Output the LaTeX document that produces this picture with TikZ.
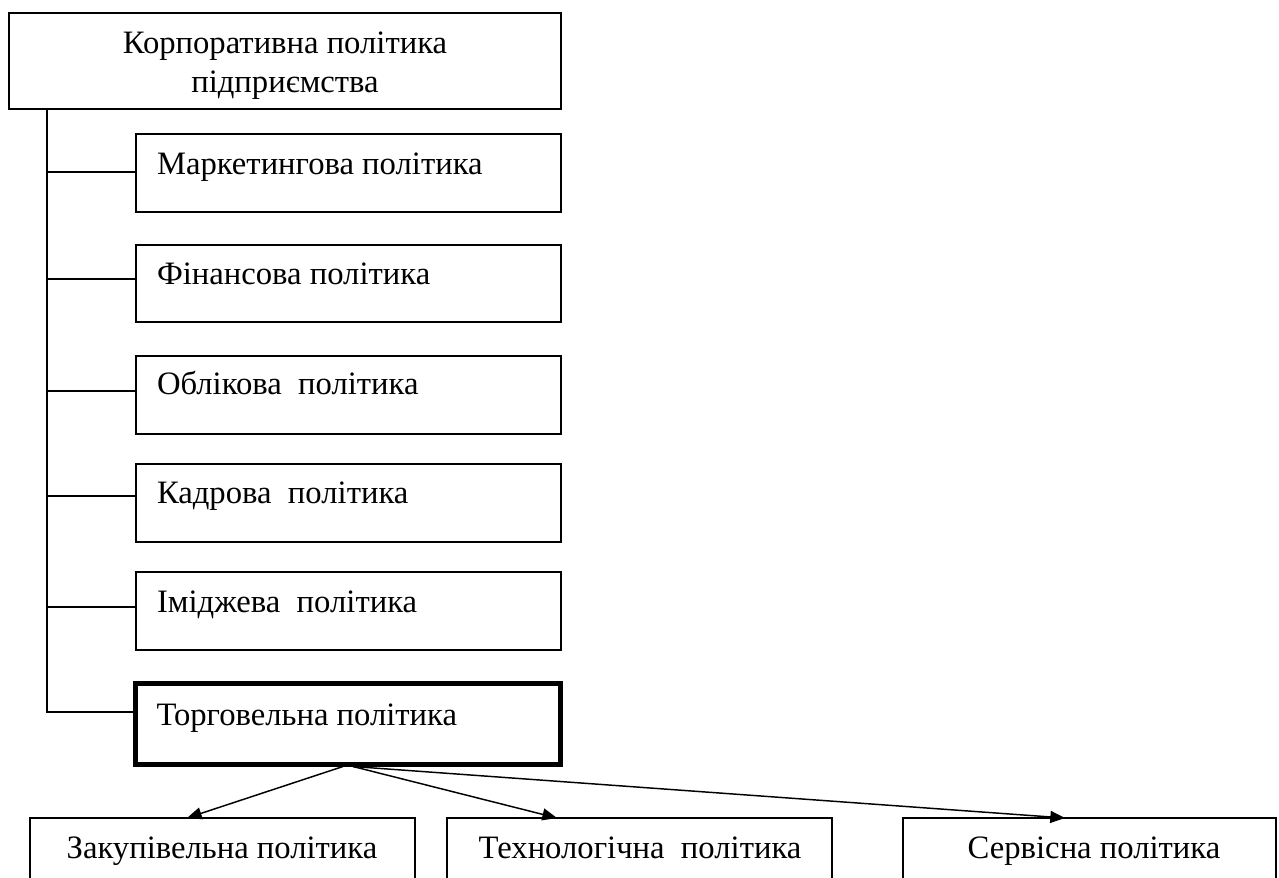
\documentclass[tikz,border=0pt]{standalone}
\usepackage{fontspec}
\setmainfont{Liberation Serif}
\usetikzlibrary{arrows.meta,calc}
\begin{document}
\begin{tikzpicture}[x=0.75pt,y=-0.75pt,
  box/.style={draw, rectangle, line width=1.1pt, inner sep=0pt, outer sep=0pt},
  thickbox/.style={box, line width=3.75pt},
  lbl/.style={font=\fontsize{24.5}{29}\selectfont, inner sep=0pt, outer sep=0pt},
  conn/.style={line width=1.1pt},
  arr/.style={conn, -{Triangle[length=11pt,width=9pt]}}]
\clip (0,0) rectangle (1279,878);
% boxes
\node[box, minimum width=552*0.75pt, minimum height=96*0.75pt] (top) at (285,61) {};
\node[box, minimum width=425*0.75pt, minimum height=78*0.75pt] (m) at (348.5,173) {};
\node[box, minimum width=425*0.75pt, minimum height=77*0.75pt] (f) at (348.5,283.5) {};
\node[box, minimum width=425*0.75pt, minimum height=78*0.75pt] (o) at (348.5,395) {};
\node[box, minimum width=425*0.75pt, minimum height=78*0.75pt] (k) at (348.5,503) {};
\node[box, minimum width=425*0.75pt, minimum height=78*0.75pt] (i) at (348.5,611) {};
\node[thickbox, minimum width=425*0.75pt, minimum height=81*0.75pt] (t) at (348,724) {};
\node[box, minimum width=385*0.75pt, minimum height=100*0.75pt] (z) at (222.5,868) {};
\node[box, minimum width=385*0.75pt, minimum height=100*0.75pt] (tk) at (639.5,868) {};
\node[box, minimum width=373*0.75pt, minimum height=100*0.75pt] (s) at (1089.5,868) {};
% texts
\node[lbl, anchor=base] (toptxt1) at (285,53) {Корпоративна політика};
\node[lbl, anchor=base] (toptxt2) at (285,92) {підприємства};
\node[lbl, anchor=base west] (mt) at ($(m.north west)+(21,40)$) {Маркетингова політика};
\node[lbl, anchor=base west] (ft) at ($(f.north west)+(21,39)$) {Фінансова політика};
\node[lbl, anchor=base west] (ot) at ($(o.north west)+(21,38)$) {Облікова\ \ політика};
\node[lbl, anchor=base west] (kt) at ($(k.north west)+(21,39)$) {Кадрова\ \ політика};
\node[lbl, anchor=base west] (it) at ($(i.north west)+(21,40)$) {Іміджева\ \ політика};
\node[lbl, anchor=base west] (tt) at ($(t.north west)+(21,41.5)$) {Торговельна політика};
\node[lbl, anchor=base] (zt) at (222,858) {Закупівельна політика};
\node[lbl, anchor=base] (tkt) at (640,858) {Технологічна\ \ політика};
\node[lbl, anchor=base] (st) at (1094,858) {Сервісна політика};
% spine connectors
\coordinate (sp) at ($(top.south west)+(38,0)$);
\draw[conn] (sp) |- ($(t.north west)+(0,28.5)$);
\foreach \b/\o in {m/38, f/34, o/35, k/32, i/35} {
  \coordinate (c\b) at ($(\b.north west)+(0,\o)$);
  \draw[conn] (sp |- c\b) -- (c\b);
}
% arrows
\draw[arr] ($(t.south)+(-5,2)$) -- ($(z.north)+(-35.5,0)$);
\draw[arr] ($(t.south)+(5,2)$) -- ($(tk.north)+(-82.5,0)$);
\draw[arr] ($(t.south)+(5,2)$) -- ($(s.north)+(-24.5,0)$);
\end{tikzpicture}
\end{document}
